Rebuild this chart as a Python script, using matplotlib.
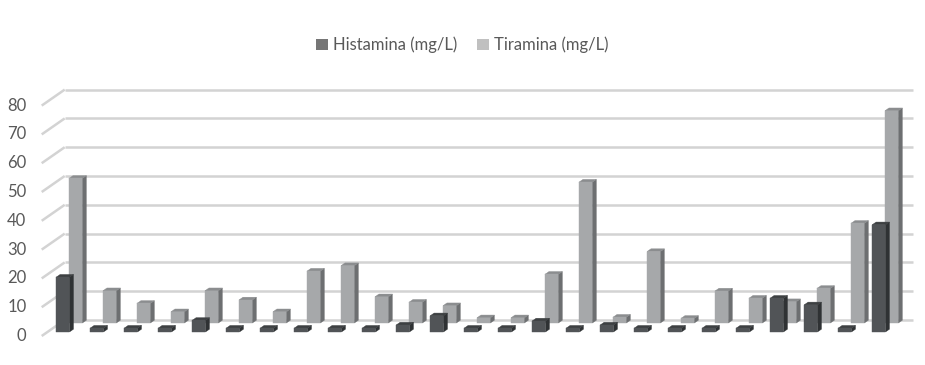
import matplotlib
matplotlib.use("Agg")
import matplotlib.pyplot as plt
from matplotlib.patches import Polygon, Patch

# ---- data ----
categories = list(range(1, 26))
histamina = [19.0, 1.3, 1.3, 1.3, 4, 1.3, 1.3, 1.3, 1.3, 1.3, 2.4, 5.6, 1.3, 1.3, 3.8, 1.3, 2.4, 1.3, 1.3, 1.3, 1.3, 11.7, 9.4, 1.3, 37.2]
tiramina = [50.2, 11.2, 6.8, 3.9, 11.2, 8.0, 3.9, 18.0, 19.9, 9.1, 7.2, 6.0, 1.8, 1.8, 16.9, 48.9, 2.0, 24.8, 1.6, 11.1, 8.6, 7.4, 12.0, 34.6, 73.7]
yticks = [0, 10, 20, 30, 40, 50, 60, 70, 80]
series_names = ["Histamina (mg/L)", "Tiramina (mg/L)"]

plt.rcParams['font.family'] = ['Lato', 'DejaVu Sans']

W, H, DPI = 925, 365, 100
fig = plt.figure(figsize=(W / DPI, H / DPI), dpi=DPI)
ax = fig.add_axes([0, 0, 1, 1])
px_cat = 34.0
px_val = 2.88
x0_px = 57.0
y0_px = 336.0
ax.set_xlim((0 - x0_px) / px_cat, (W - x0_px) / px_cat)
ax.set_ylim((y0_px - H) / px_val, y0_px / px_val)
ax.axis('off')

# oblique depth offsets (category units, value units)
ox = 23.0 / px_cat
oy = 16.0 / px_val

n = len(categories)
x_left = -0.45
x_right = n - 1 + 0.5

grid_c = '#d3d3d3'
for v in yticks:
    ax.plot([x_left, x_left + ox], [v, v + oy], color=grid_c, lw=1.8, solid_capstyle='butt', zorder=1)
    ax.plot([x_left + ox, x_right + ox], [v + oy, v + oy], color=grid_c, lw=1.8, solid_capstyle='butt', zorder=1)
    ax.text(x_left - 0.45, v, str(v), ha='right', va='center', fontsize=12, color='#595959')

def bar3d(i, v, d0, dd, w, cf, cs, ct, z):
    d1 = d0 + dd
    xl, xr = i - w, i + w
    front = [(xl + d0 * ox, d0 * oy), (xr + d0 * ox, d0 * oy), (xr + d0 * ox, v + d0 * oy), (xl + d0 * ox, v + d0 * oy)]
    side = [(xr + d0 * ox, d0 * oy), (xr + d1 * ox, d1 * oy), (xr + d1 * ox, v + d1 * oy), (xr + d0 * ox, v + d0 * oy)]
    top = [(xl + d0 * ox, v + d0 * oy), (xr + d0 * ox, v + d0 * oy), (xr + d1 * ox, v + d1 * oy), (xl + d1 * ox, v + d1 * oy)]
    for pts, c in ((side, cs), (top, ct), (front, cf)):
        ax.add_patch(Polygon(pts, closed=True, facecolor=c, edgecolor=c, lw=0.3, zorder=z))

w = 0.196
dd = 0.175
for i, v in enumerate(tiramina):
    bar3d(i, v, 0.81, dd, w, '#a6a8aa', '#6d6f71', '#8b8d8f', 3)
for i, v in enumerate(histamina):
    bar3d(i, v, 0.25, dd, w, '#515457', '#2f3234', '#3d4042', 5)

handles = [Patch(facecolor='#767676', edgecolor='none'), Patch(facecolor='#c0c0c0', edgecolor='none')]
fig.legend(handles, series_names, loc='center', bbox_to_anchor=(0.5, 1 - 45 / H), ncol=2, frameon=False,
           fontsize=12, labelcolor='#595959', handlelength=0.7, handleheight=0.7, handletextpad=0.3,
           columnspacing=1.2)

fig.savefig('out.png', dpi=DPI, facecolor='white')
